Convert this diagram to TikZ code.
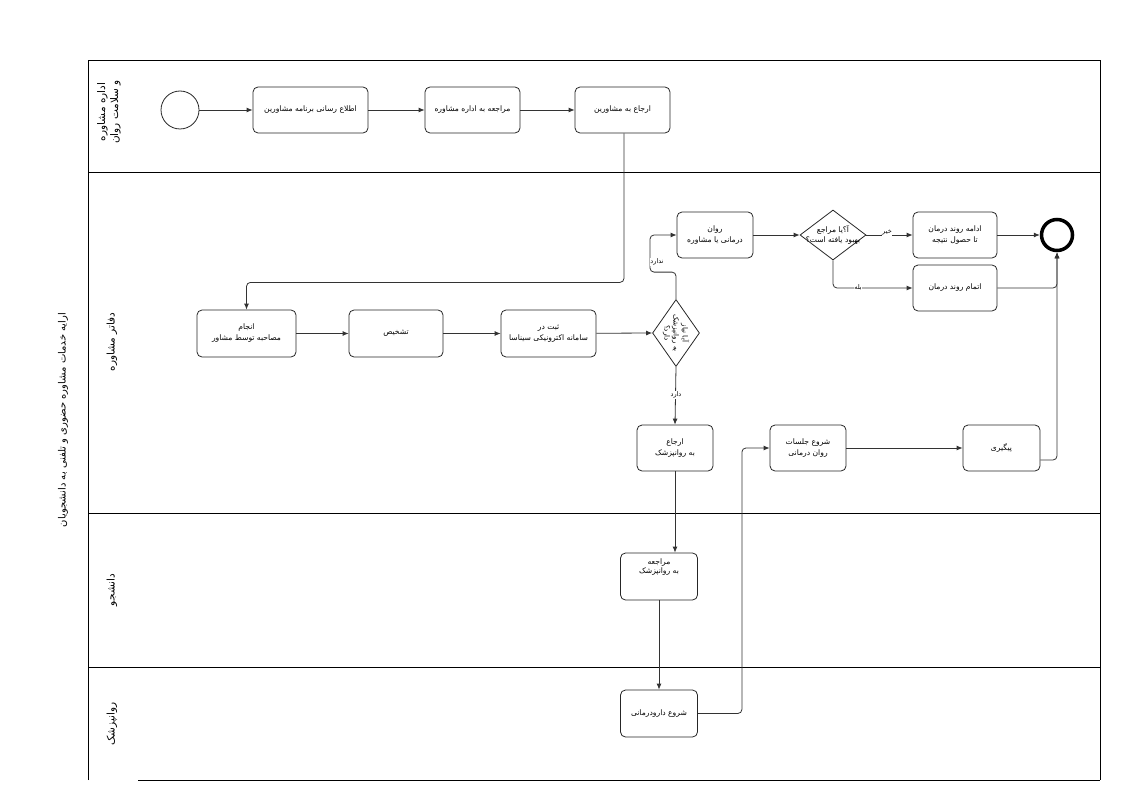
\documentclass[tikz,border=0pt]{standalone}
\usepackage{fontspec}
\newfontfamily\arabicfont[Script=Arabic]{DejaVu Sans}
\TeXXeTstate=1
\usetikzlibrary{arrows.meta,shapes.geometric}
\newcommand{\fa}[1]{{\arabicfont\beginR #1\endR}}
\tikzset{
  task/.style={draw=black!85, line width=0.8pt, rounded corners=5pt, minimum height=46pt,
    align=center, inner sep=1pt, font=\fontsize{7.6}{11}\selectfont},
  gate/.style={draw=black!85, line width=0.8pt, diamond, inner sep=0pt},
  flow/.style={draw=black!80, line width=0.8pt, rounded corners=4pt, -{Latex[length=6pt,width=5pt]}},
  flowlabel/.style={font=\fontsize{6.5}{7}\selectfont, fill=white, inner sep=0.5pt},
  lanelabel/.style={rotate=90, align=center, font=\fontsize{10.5}{13}\selectfont},
  poolline/.style={draw=black, line width=0.8pt}
}
\begin{document}
\begin{tikzpicture}[x=1pt,y=-1pt]
\useasboundingbox (0,0) rectangle (1123,794);
% pool and lanes
\draw[poolline] (88,780) -- (88,60) -- (1100,60) -- (1100,780);
\draw[poolline] (138,780) -- (1100,780);
\draw[poolline] (88,172) -- (1100,172);
\draw[poolline] (88,513) -- (1100,513);
\draw[poolline] (88,667) -- (1100,667);
\node[lanelabel, font=\fontsize{10}{12}\selectfont] (title) at (63,420) {\fa{ارایه خدمات مشاوره حضوری و تلفنی به دانشجویان}};
\node[lanelabel] (lane1) at (109,112) {\fa{اداره مشاوره}\\\fa{و سلامت روان}};
\node[lanelabel] (lane2) at (112,342) {\fa{دفاتر مشاوره}};
\node[lanelabel] (lane3) at (112,590) {\fa{دانشجو}};
\node[lanelabel] (lane4) at (112,724) {\fa{روانپزشک}};
% lane 1
\node[circle, draw=black!85, line width=0.8pt, minimum size=38pt, inner sep=0pt] (start) at (180,110) {};
\node[task, minimum width=115pt] (A) at (310.5,110) {\fa{اطلاع رسانی برنامه مشاورین}};
\node[task, minimum width=95pt] (B) at (472.5,110) {\fa{مراجعه به اداره مشاوره}};
\node[task, minimum width=95pt] (C) at (622.5,110) {\fa{ارجاع به مشاورین}};
% lane 2
\node[task, minimum width=99pt, minimum height=47pt] (D) at (246.5,333.5) {\fa{انجام}\\\fa{مصاحبه توسط مشاور}};
\node[task, minimum width=94pt, minimum height=47pt] (E) at (396,333.5) {\fa{تشخیص}};
\node[task, minimum width=95pt, minimum height=47pt] (F) at (548.5,333.5) {\fa{ثبت در}\\\fa{سامانه اکترونیکی سیناسا}};
\node[gate, minimum width=47pt, minimum height=67pt] (G) at (676,333) {};
\node[rotate=-90, align=center, font=\fontsize{7.2}{9}\selectfont] (Gt) at (676,333) {\fa{آیا نیاز}\\\fa{به روانپزشک}\\\fa{دارد؟}};
\node[task, minimum width=76pt] (H) at (715,235) {\fa{روان}\\\fa{درمانی یا مشاوره}};
\node[gate, minimum width=66pt, minimum height=50pt] (I) at (833,235) {};
\node[align=center, font=\fontsize{7.6}{10}\selectfont, inner sep=0pt] (It) at (833,235) {\fa{آ؟یا مراجع}\\\fa{بهبود یافته است؟}};
\node[task, minimum width=84pt] (J) at (955,235) {\fa{ادامه روند درمان}\\\fa{تا حصول نتیجه}};
\node[task, minimum width=84pt] (K) at (955,288) {\fa{اتمام روند درمان}};
\node[circle, draw=black, line width=3.5pt, minimum size=31pt, inner sep=0pt] (end) at (1057,235) {};
\node[task, minimum width=76pt] (L) at (675,448) {\fa{ارجاع}\\\fa{به روانپزشک}};
\node[task, minimum width=76pt] (M) at (808,448) {\fa{شروع جلسات}\\\fa{روان درمانی}};
\node[task, minimum width=77pt] (N) at (1001.5,448) {\fa{پیگیری}};
% lane 3
\node[task, minimum width=77pt, minimum height=47pt] (O) at (659,576.5) {\fa{مراجعه}\\[-2pt]\fa{به روانپزشک}\\[9pt]};
% lane 4
\node[task, minimum width=77pt, minimum height=47pt] (P) at (659,713.5) {\fa{شروع دارودرمانی}};
% flows
\draw[flow] (start) -- (A);
\draw[flow] (A) -- (B);
\draw[flow] (B) -- (C);
\draw[flow] ([xshift=1.5pt]C.south) -- ++(0,149) -| (D.north);
\draw[flow] (D) -- (E);
\draw[flow] (E) -- (F);
\draw[flow] (F) -- (G.west);
\draw[flow] (G.north) -- ++(0,-27) -- ++(-26,0) |- (H.west);
\node[flowlabel] (lbnd) at (657,262) {\fa{ندارد}};
\draw[flow] (G.south) -- (L.north);
\node[flowlabel] (lbd) at (676,395) {\fa{دارد}};
\draw[flow] (H) -- (I.west);
\draw[flow] (I.east) -- (J.west);
\node[flowlabel] (lbno) at (887,233) {\fa{خیر}};
\draw[flow] (I.south) |- (K.west);
\node[flowlabel] (lbyes) at (858,288) {\fa{بله}};
\draw[flow] (J) -- (end);
\draw[flow] (K.east) -| (end.south);
\draw[flow] ([yshift=-12pt]N.east) -| (end.south);
\draw[flow] (M) -- (N);
\draw[flow] (L.south) -- (L.south |- O.north);
\draw[flow] (O.south) -- (P.north);
\draw[flow] (P.east) -- ++(44,0) |- (M.west);
\end{tikzpicture}
\end{document}
